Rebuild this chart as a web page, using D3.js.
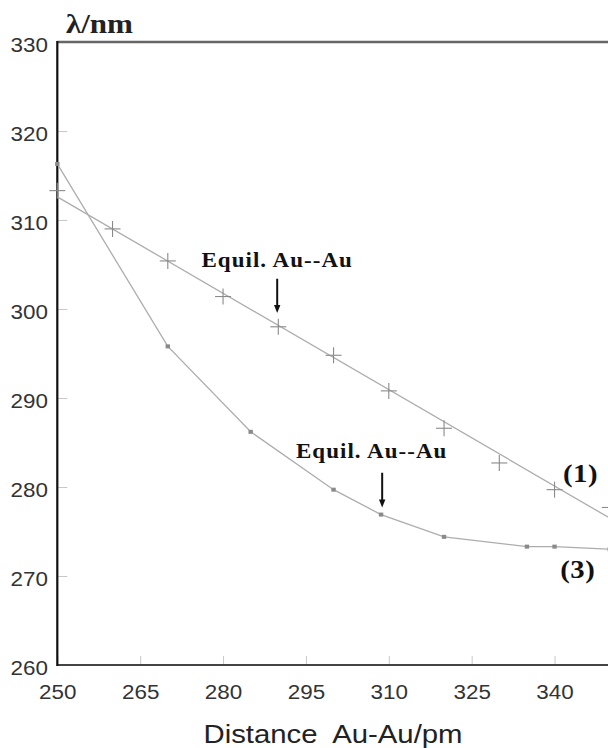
<!DOCTYPE html>
<html>
<head>
<meta charset="utf-8">
<script src="https://cdn.jsdelivr.net/npm/d3@7/dist/d3.min.js"></script>
<style>
  html, body { margin: 0; padding: 0; background: #fff; }
  svg { display: block; }
</style>
</head>
<body>
<script>
// ---- data ----
const xTicks = [250, 265, 280, 295, 310, 325, 340];
const yTicks = [260, 270, 280, 290, 300, 310, 320, 330];

// series (1): "+" markers
const x1 = [250, 260, 270, 280, 290, 300, 310, 320, 330, 340, 350];
const y1 = [313.3, 309.0, 305.4, 301.4, 298.0, 294.8, 290.8, 286.6, 282.7, 279.7, 277.7];
// series (1): fitted line end points
const fit1X = [250, 350];
const fit1Y = [312.6, 276.5];

// series (3): small square markers, joined
const x3 = [250, 270, 285, 300, 308.6, 320, 335, 340, 350];
const y3 = [316.3, 295.8, 286.2, 279.7, 276.9, 274.4, 273.3, 273.3, 273.0];

// annotations (data units)
const annText = ["Equil. Au--Au", "Equil. Au--Au"];
const annX = [289.8, 306.9];
const annTextY = [304.75, 283.3];
const annArrowX = [289.8, 308.8];
const annArrowFrom = [303.4, 281.6];
const annArrowTo = [299.55, 277.7];

const seriesLabels = ["(1)", "(3)"];
const seriesLabelX = [344.7, 344.2];
const seriesLabelY = [280.6, 269.8];

const xTitle = "Distance  Au-Au/pm";
const yTitle = "\u03BB/nm";

// ---- drawing ----
const W = 608, H = 748;
const SX = 1.15; // horizontal stretch of the reference's lettering

const svg = d3.select("body").append("svg")
  .attr("width", W).attr("height", H)
  .style("background", "#fff");

const x = d3.scaleLinear().domain([250, 350]).range([57.3, 57.3 + 552.5]);
const y = d3.scaleLinear().domain([260, 330]).range([665, 42]);

// inner ticks + labels via axes
const gx = svg.append("g").attr("transform", `translate(0,${y(260)})`)
  .call(d3.axisBottom(x).tickValues(xTicks).tickSizeInner(-9).tickSizeOuter(0));
gx.select(".domain").remove();
gx.selectAll(".tick line").attr("stroke", "#c8c8c8").attr("stroke-width", 1);
gx.selectAll(".tick text")
  .attr("y", 34).attr("dy", 0)
  .attr("transform", `scale(${SX},1)`)
  .attr("fill", "#333")
  .style("font-family", "'Liberation Sans', Arial, sans-serif")
  .style("font-size", "19.5px");

const gy = svg.append("g").attr("transform", `translate(${x(250)},0)`)
  .call(d3.axisLeft(y).tickValues(yTicks).tickSizeInner(-10).tickSizeOuter(0));
gy.select(".domain").remove();
gy.selectAll(".tick line").attr("stroke", "#c8c8c8").attr("stroke-width", 1);
gy.selectAll(".tick text")
  .attr("x", -9.3 / SX).attr("dy", "9.5px")
  .attr("transform", `scale(${SX},1)`)
  .attr("fill", "#333")
  .style("font-family", "'Liberation Sans', Arial, sans-serif")
  .style("font-size", "19.5px");

// frame lines
svg.append("line").attr("x1", x(250)).attr("x2", W).attr("y1", y(330)).attr("y2", y(330))
  .attr("stroke", "#666").attr("stroke-width", 2.5);
svg.append("line").attr("x1", x(250)).attr("x2", W).attr("y1", y(260)).attr("y2", y(260))
  .attr("stroke", "#444").attr("stroke-width", 2.2);
svg.append("line").attr("x1", x(250)).attr("x2", x(250)).attr("y1", y(330) - 1).attr("y2", y(260) + 1)
  .attr("stroke", "#111").attr("stroke-width", 2.2);

// series (3) line
const line = d3.line().x(d => x(d[0])).y(d => y(d[1]));
const pts3 = x3.map((v, i) => [v, y3[i]]);
svg.append("path").datum(pts3).attr("d", line)
  .attr("fill", "none").attr("stroke", "#adadad").attr("stroke-width", 1.3);
svg.selectAll(".sq").data(pts3).enter().append("rect")
  .attr("x", d => x(d[0]) - 2.2).attr("y", d => y(d[1]) - 2)
  .attr("width", 4.4).attr("height", 4)
  .attr("fill", "#8a8a8a");

// series (1) fit line
const fit = fit1X.map((v, i) => [v, fit1Y[i]]);
svg.append("path").datum(fit).attr("d", line)
  .attr("fill", "none").attr("stroke", "#adadad").attr("stroke-width", 1.3);
const pts1 = x1.map((v, i) => [v, y1[i]]);
const plus = svg.selectAll(".plus").data(pts1).enter().append("g")
  .attr("transform", d => `translate(${x(d[0])},${y(d[1])})`);
plus.append("line").attr("x1", -8).attr("x2", 8).attr("y1", 0).attr("y2", 0)
  .attr("stroke", "#8a8a8a").attr("stroke-width", 1.1);
plus.append("line").attr("x1", 0).attr("x2", 0).attr("y1", -8).attr("y2", 8)
  .attr("stroke", "#8a8a8a").attr("stroke-width", 1.1);

// annotations
const serif = "'Liberation Serif', 'Times New Roman', serif";
annText.forEach((t, i) => {
  svg.append("text")
    .attr("transform", `translate(${x(annX[i])},${y(annTextY[i])}) scale(${SX},1)`)
    .attr("text-anchor", "middle")
    .style("font-family", serif).style("font-weight", "bold")
    .style("font-size", "20px").style("letter-spacing", "0.9px")
    .attr("fill", "#111").text(t);
  const ax = x(annArrowX[i]);
  const yFrom = y(annArrowFrom[i]), yTo = y(annArrowTo[i]);
  svg.append("line").attr("x1", ax).attr("x2", ax).attr("y1", yFrom).attr("y2", yTo - 6)
    .attr("stroke", "#111").attr("stroke-width", 2);
  svg.append("path")
    .attr("d", `M${ax - 3.2},${yTo - 8} L${ax + 3.2},${yTo - 8} L${ax},${yTo} Z`)
    .attr("fill", "#111");
});

seriesLabels.forEach((t, i) => {
  svg.append("text")
    .attr("transform", `translate(${x(seriesLabelX[i])},${y(seriesLabelY[i])}) scale(${SX},1)`)
    .attr("text-anchor", "middle")
    .style("font-family", serif).style("font-weight", "bold")
    .style("font-size", "25px").style("letter-spacing", "0.5px")
    .attr("fill", "#111").text(t);
});

// titles
svg.append("text")
  .attr("transform", `translate(333,743) scale(${SX},1)`)
  .attr("text-anchor", "middle")
  .style("font-family", "'Liberation Sans', Arial, sans-serif")
  .style("font-size", "25.5px").attr("fill", "#222")
  .style("white-space", "pre").attr("xml:space", "preserve")
  .text(xTitle);

svg.append("text")
  .attr("transform", `translate(66,33) scale(${SX},1)`)
  .attr("text-anchor", "start")
  .style("font-family", serif).style("font-weight", "bold")
  .style("font-size", "27px").attr("fill", "#222")
  .text(yTitle);
</script>
</body>
</html>
